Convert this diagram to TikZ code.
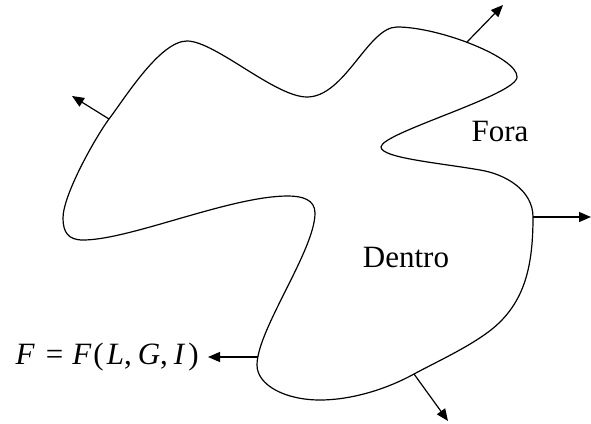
\documentclass[tikz,border=0pt]{standalone}
\usepackage{fontspec}
\setmainfont{Liberation Serif}
\usetikzlibrary{arrows.meta}
\begin{document}
\begin{tikzpicture}[x=1pt,y=-1pt,
  outline/.style={line width=1.2pt},
  normal/.style={line width=1.2pt,-{Triangle[length=12pt,width=10pt]}},
  lbl/.style={font=\fontsize{31}{36}\selectfont, inner sep=0pt}]
\useasboundingbox (0,0) rectangle (591,423);
\draw[outline]
 (187,41) .. controls (215,41) and (275,97) .. (307,97)
 .. controls (345,97) and (368,27) .. (397,27)
 .. controls (440,27) and (518,58) .. (517,77)
 .. controls (517,95) and (381,133) .. (381,147)
 .. controls (381,158) and (440,163) .. (480,170)
 .. controls (505,174) and (533,190) .. (533,217)
 .. controls (533,265) and (525,297) .. (500,322)
 .. controls (480,342) and (440,360) .. (414,374)
 .. controls (385,390) and (350,400) .. (320,400)
 .. controls (285,400) and (257,385) .. (257,365)
 .. controls (257,330) and (315,250) .. (315,213)
 .. controls (315,200) and (303,196) .. (288,196)
 .. controls (230,196) and (130,240) .. (83,240)
 .. controls (68,240) and (63,232) .. (63,218)
 .. controls (63,195) and (95,138) .. (109,119)
 .. controls (125,98) and (160,41) .. cycle;
% normals
\coordinate (b1) at (109,119); \coordinate (t1) at (72,96);
\coordinate (b2) at (467,42);  \coordinate (t2) at (503,5);
\coordinate (b3) at (533,217); \coordinate (t3) at (591,217);
\coordinate (b4) at (414,374); \coordinate (t4) at (448,421);
\coordinate (b5) at (258,357);
\node[lbl] (fora) at (500,132) {Fora};
\node[lbl] (dentro) at (406,257) {Dentro};
\node[lbl, anchor=east] (f) at (199,357) {\textit{F}\hspace{11pt}=\hspace{9pt}\textit{F}\kern2pt(\kern3pt\textit{L},\kern6pt\textit{G},\kern6pt\textit{I}\kern3pt)};
\draw[normal] (b1) -- (t1);
\draw[normal] (b2) -- (t2);
\draw[normal] (b3) -- (t3);
\draw[normal] (b4) -- (t4);
\draw[normal] (b5) -- ([xshift=9pt]f.east);
\end{tikzpicture}
\end{document}
